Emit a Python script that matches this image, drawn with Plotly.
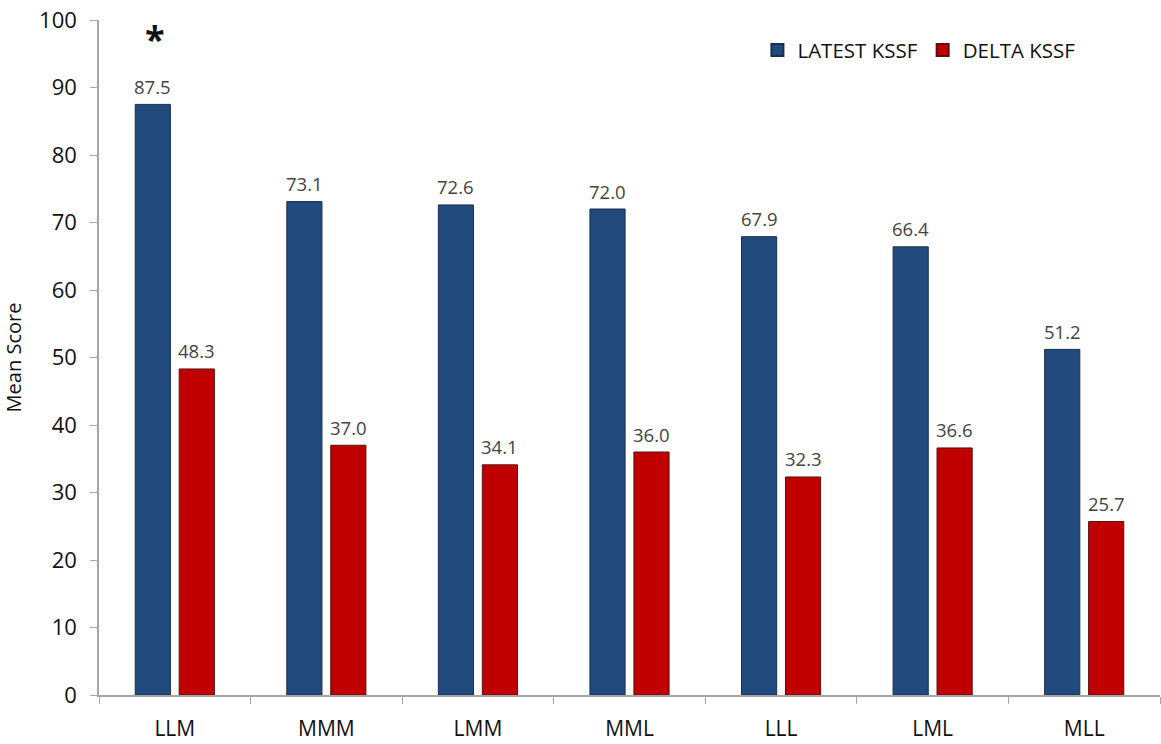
import plotly.graph_objects as go

categories = ["LLM", "MMM", "LMM", "MML", "LLL", "LML", "MLL"]
latest_kssf = [87.5, 73.1, 72.6, 72.0, 67.9, 66.4, 51.2]
delta_kssf = [48.3, 37.0, 34.1, 36.0, 32.3, 36.6, 25.7]
y_ticks = [0, 10, 20, 30, 40, 50, 60, 70, 80, 90, 100]

FONT = "Open Sans, Liberation Sans, sans-serif"

fig = go.Figure()
fig.add_trace(go.Bar(
    name="LATEST KSSF", x=categories, y=latest_kssf,
    marker=dict(color="#234a7c", line=dict(color="#1a2f4f", width=1)),
))
fig.add_trace(go.Bar(
    name="DELTA KSSF", x=categories, y=delta_kssf,
    marker=dict(color="#c00000", line=dict(color="#5a1010", width=1)),
))

for series, shift in ((latest_kssf, -22), (delta_kssf, 22)):
    for c, v in zip(categories, series):
        fig.add_annotation(x=c, y=v, text=f"{v:.1f}", showarrow=False,
                           xshift=shift, yshift=18, yanchor="middle",
                           font=dict(size=18.5, color="#444444", family=FONT))

fig.add_annotation(x="LLM", y=97.2, text="<b>*</b>", showarrow=False, xshift=-20,
                   font=dict(size=36, color="#111111", family=FONT))

fig.update_layout(
    width=1161, height=744,
    margin=dict(l=99, r=1, t=20, b=49),
    plot_bgcolor="white", paper_bgcolor="white",
    barmode="group", bargap=0.42, bargroupgap=0.2,
    font=dict(family=FONT, color="#111111"),
    legend=dict(orientation="h", x=0.925, y=0.985, xanchor="right", yanchor="top",
                font=dict(size=20.5, color="#111111"), bgcolor="rgba(0,0,0,0)",
                itemsizing="constant", traceorder="normal"),
    xaxis=dict(showline=True, linecolor="#a6a6a6", linewidth=1.5,
               ticks="outside", ticklen=7, tickcolor="#a6a6a6",
               tickson="boundaries", tickfont=dict(size=21, color="#111111"),
               ticklabelstandoff=14, showgrid=False),
    yaxis=dict(range=[0, 100], tickvals=y_ticks, showline=True, linecolor="#a6a6a6",
               linewidth=1.5, ticks="outside", ticklen=7, tickcolor="#a6a6a6",
               tickfont=dict(size=22, color="#111111"), showgrid=False,
               ticklabelstandoff=9,
               title=dict(text="Mean Score", font=dict(size=20, color="#111111"), standoff=12)),
)

fig.write_html("out.html")
